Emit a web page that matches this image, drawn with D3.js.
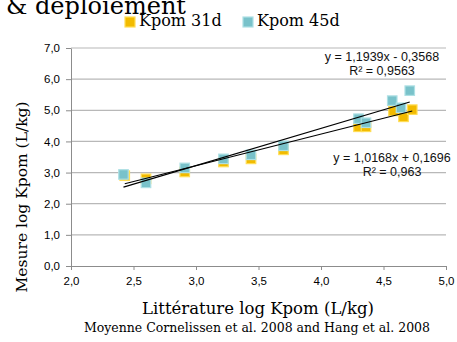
<!DOCTYPE html>
<html>
<head>
<meta charset="utf-8">
<script src="https://cdn.jsdelivr.net/npm/d3@7"></script>
<style>
  body { margin: 0; background: #fff; }
  svg { display: block; }
</style>
</head>
<body>
<svg id="drawing_region"></svg>
<script>
// literature log Kpom (x) vs measured log Kpom (y)
const lit31 = [2.43, 2.60, 2.91, 3.22, 3.44, 3.70, 4.30, 4.36, 4.58, 4.66, 4.73];
const mes31 = [2.90, 2.80, 3.02, 3.34, 3.44, 3.73, 4.47, 4.47, 4.98, 4.79, 5.02];
const lit45 = [2.42, 2.60, 2.91, 3.22, 3.44, 3.70, 4.30, 4.36, 4.57, 4.64, 4.71];
const mes45 = [2.94, 2.67, 3.15, 3.44, 3.57, 3.86, 4.73, 4.60, 5.31, 5.08, 5.63];

const seriesNames = ['Kpom 31d', 'Kpom 45d'];
const trendSlope = [1.0168, 1.1939];
const trendIntercept = [0.1696, -0.3568];
const trendEq = ['y = 1,0168x + 0,1696', 'y = 1,1939x - 0,3568'];
const trendR2 = ['R² = 0,963', 'R² = 0,9563'];

const xTicks = [2.0, 2.5, 3.0, 3.5, 4.0, 4.5, 5.0];
const yTicks = [0, 1, 2, 3, 4, 5, 6, 7];

const config = {
    width: 457,
    height: 342,
    margin: {top: 48, right: 11, bottom: 76, left: 71}
};

const fmt = d => d.toFixed(1).replace('.', ',');
const serif = "'DejaVu Serif', serif";
const sans = "'Liberation Sans', Arial, sans-serif";

const svg = d3.select('#drawing_region')
    .attr('width', config.width)
    .attr('height', config.height);

const inner_width = config.width - config.margin.left - config.margin.right;
const inner_height = config.height - config.margin.top - config.margin.bottom;

const xscale = d3.scaleLinear().domain([2, 5]).range([0, inner_width]);
const yscale = d3.scaleLinear().domain([0, 7]).range([inner_height, 0]);

const chart = svg.append('g')
    .attr('transform', `translate(${config.margin.left}, ${config.margin.top})`);

// gridlines
chart.append('g')
    .selectAll('line')
    .data(yTicks.slice(1))
    .join('line')
    .attr('x1', 0)
    .attr('x2', inner_width)
    .attr('y1', d => yscale(d))
    .attr('y2', d => yscale(d))
    .attr('stroke', '#b8b8b8')
    .attr('stroke-width', 1.2);

// axes
const xaxis = d3.axisBottom(xscale).tickValues(xTicks).tickFormat(fmt).tickSize(4).tickPadding(7).tickSizeOuter(0);
const yaxis = d3.axisLeft(yscale).tickValues(yTicks).tickFormat(fmt).tickSize(5).tickPadding(6).tickSizeOuter(0);

const xaxis_group = chart.append('g')
    .attr('transform', `translate(0, ${inner_height})`)
    .call(xaxis);
const yaxis_group = chart.append('g').call(yaxis);

[xaxis_group, yaxis_group].forEach(g => {
    g.select('.domain').attr('stroke', '#8c8c8c');
    g.selectAll('.tick line').attr('stroke', '#8c8c8c');
    g.selectAll('.tick text')
        .attr('fill', '#000')
        .style('font-family', sans)
        .style('font-size', '11.5px');
});

// markers
const colors = [
    {fill: '#f2bb00', stroke: '#ffdd55'},
    {fill: '#79c2ca', stroke: '#aee0e4'}
];
const series = [
    lit31.map((x, i) => ({x: x, y: mes31[i]})),
    lit45.map((x, i) => ({x: x, y: mes45[i]}))
];
const ms = 9.5;

series.forEach((data, k) => {
    chart.append('g')
        .selectAll('rect')
        .data(data)
        .join('rect')
        .attr('x', d => xscale(d.x) - ms / 2)
        .attr('y', d => yscale(d.y) - ms / 2)
        .attr('width', ms)
        .attr('height', ms)
        .attr('fill', colors[k].fill)
        .attr('stroke', colors[k].stroke)
        .attr('stroke-width', 1.2);
});

// trendlines
const line = d3.line()
    .x(d => xscale(d.x))
    .y(d => yscale(d.y));

series.forEach((data, k) => {
    const ext = d3.extent(data, d => d.x);
    const pts = ext.map(x => ({x: x, y: trendSlope[k] * x + trendIntercept[k]}));
    chart.append('path')
        .attr('d', line(pts))
        .attr('stroke', '#000')
        .attr('stroke-width', 1.1)
        .attr('fill', 'none');
});

// equation labels
const eqPos = [{x: 392, y: 162}, {x: 382, y: 61}];
eqPos.forEach((p, k) => {
    const t = svg.append('text')
        .attr('text-anchor', 'middle')
        .style('font-family', sans)
        .style('font-size', '12.5px')
        .attr('fill', '#111');
    t.append('tspan').attr('x', p.x).attr('y', p.y).text(trendEq[k]);
    t.append('tspan').attr('x', p.x).attr('y', p.y + 14).text(trendR2[k]);
});

// title (clipped at top)
svg.append('text')
    .attr('x', 6)
    .attr('y', 14)
    .style('font-family', serif)
    .style('font-size', '24px')
    .text('& déploiement');

// legend
const legend = svg.append('g');
const legX = [125, 243];
seriesNames.forEach((name, k) => {
    legend.append('rect')
        .attr('x', legX[k])
        .attr('y', 17)
        .attr('width', 10)
        .attr('height', 10)
        .attr('fill', colors[k].fill)
        .attr('stroke', colors[k].stroke)
        .attr('stroke-width', 1.2);
    legend.append('text')
        .attr('x', legX[k] + 14)
        .attr('y', 26)
        .style('font-family', serif)
        .style('font-size', '16px')
        .text(name);
});

// axis titles
svg.append('text')
    .attr('x', 258)
    .attr('y', 314)
    .attr('text-anchor', 'middle')
    .style('font-family', serif)
    .style('font-size', '16.5px')
    .text('Littérature log Kpom (L/kg)');

svg.append('text')
    .attr('x', 257)
    .attr('y', 332)
    .attr('text-anchor', 'middle')
    .style('font-family', serif)
    .style('font-size', '12.5px')
    .text('Moyenne Cornelissen et al. 2008 and Hang et al. 2008');

svg.append('text')
    .attr('transform', 'translate(27, 197) rotate(-90)')
    .attr('text-anchor', 'middle')
    .style('font-family', serif)
    .style('font-size', '15.5px')
    .text('Mesure log Kpom (L/kg)');
</script>
</body>
</html>
